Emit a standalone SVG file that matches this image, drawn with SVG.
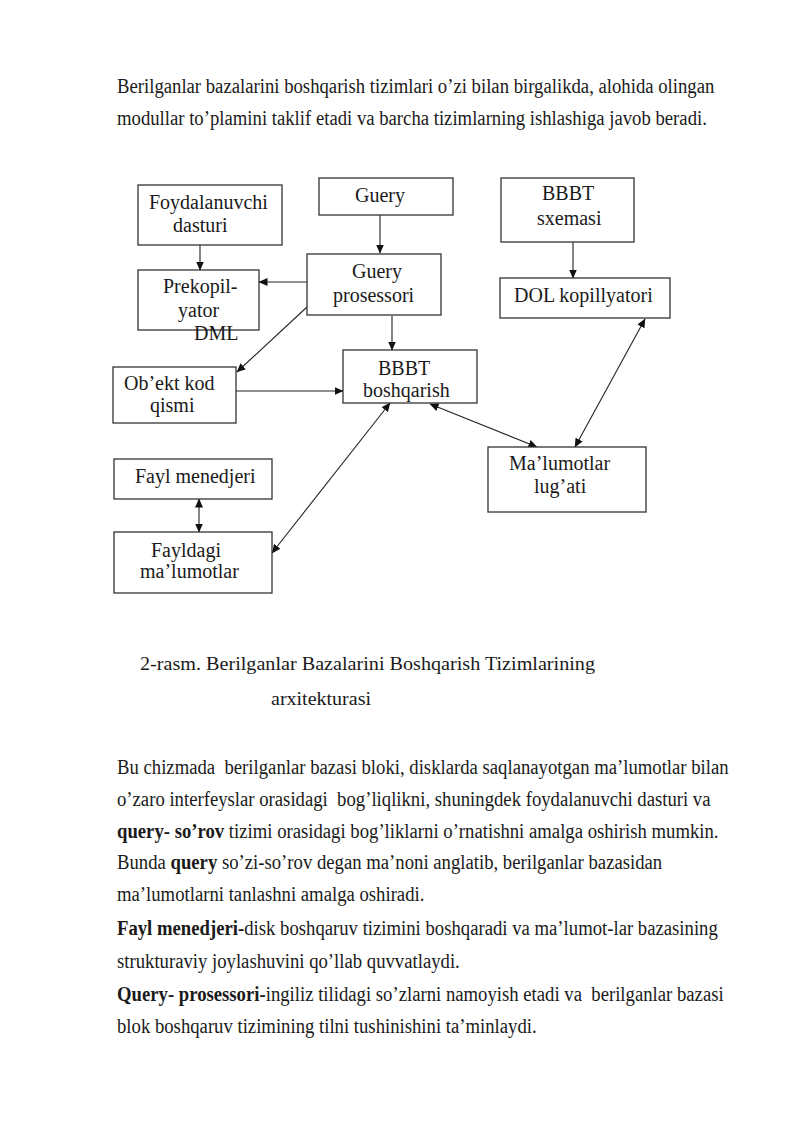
<svg xmlns="http://www.w3.org/2000/svg" width="800" height="1131" viewBox="0 0 800 1131">
<style>
.bg{fill:#ffffff}
.box{fill:#ffffff;stroke:#333333;stroke-width:1.3}
.lbl{font-family:"Liberation Serif","Times New Roman",serif;font-size:20px;fill:#1a1a1a}
.body{font-family:"Liberation Serif","Times New Roman",serif;font-size:20px;fill:#1a1a1a;white-space:pre}
.cap{font-family:"Liberation Serif","Times New Roman",serif;font-size:19.5px;fill:#1a1a1a}
.b{font-weight:bold}
.con{fill:none;stroke:#222222;stroke-width:1.1}
</style>
<defs>
<marker id="ah" markerWidth="9" markerHeight="8" refX="8.5" refY="4" orient="auto-start-reverse" markerUnits="userSpaceOnUse">
<path d="M0,0 L9,4 L0,8 Z" fill="#111111"/>
</marker>
</defs>
<rect class="bg" x="0" y="0" width="800" height="1131"/>

<g id="intro" transform="scale(0.935,1)">
<text class="body" x="125.13" y="93">Berilganlar bazalarini boshqarish tizimlari o’zi bilan birgalikda, alohida olingan</text>
<text class="body" x="125.13" y="125">modullar to’plamini taklif etadi va barcha tizimlarning ishlashiga javob beradi.</text>
</g>

<g id="connectors">
<line class="con" x1="380" y1="215" x2="380" y2="253" marker-end="url(#ah)"/>
<line class="con" x1="200" y1="245" x2="200" y2="270" marker-end="url(#ah)"/>
<line class="con" x1="307" y1="282" x2="259" y2="282" marker-end="url(#ah)"/>
<line class="con" x1="307" y1="307" x2="237" y2="372" marker-end="url(#ah)"/>
<line class="con" x1="392" y1="316" x2="392" y2="350" marker-end="url(#ah)"/>
<line class="con" x1="236" y1="391" x2="343" y2="391" marker-end="url(#ah)"/>
<line class="con" x1="573" y1="242" x2="573" y2="278" marker-end="url(#ah)"/>
<line class="con" x1="199" y1="532" x2="199" y2="499" marker-end="url(#ah)" marker-start="url(#ah)"/>
<line class="con" x1="272" y1="553" x2="390" y2="403" marker-end="url(#ah)" marker-start="url(#ah)"/>
<line class="con" x1="430" y1="404" x2="537" y2="447" marker-end="url(#ah)" marker-start="url(#ah)"/>
<line class="con" x1="645" y1="319" x2="575" y2="447" marker-end="url(#ah)" marker-start="url(#ah)"/>
</g>

<g id="foydalanuvchi">
<rect class="box" x="138" y="185" width="144" height="60"/>
<text class="lbl" x="149" y="209">Foydalanuvchi</text>
<text class="lbl" x="173" y="232">dasturi</text>
</g>

<g id="guery">
<rect class="box" x="319" y="178" width="134" height="37"/>
<text class="lbl" x="355" y="202">Guery</text>
</g>

<g id="bbbt-sxemasi">
<rect class="box" x="501" y="178" width="133" height="64"/>
<text class="lbl" x="542" y="200">BBBT</text>
<text class="lbl" x="537" y="225">sxemasi</text>
</g>

<g id="prekopilyator">
<rect class="box" x="138" y="270" width="121" height="60"/>
<text class="lbl" x="163" y="293">Prekopil-</text>
<text class="lbl" x="178" y="317">yator</text>
<text class="lbl" x="194" y="340">DML</text>
</g>

<g id="guery-prosessori">
<rect class="box" x="307" y="254" width="134" height="61"/>
<text class="lbl" x="352" y="278">Guery</text>
<text class="lbl" x="333" y="302">prosessori</text>
</g>

<g id="dol-kopillyatori">
<rect class="box" x="500" y="278" width="170" height="40"/>
<text class="lbl" x="514" y="302">DOL kopillyatori</text>
</g>

<g id="obekt-kod">
<rect class="box" x="113" y="367" width="123" height="56"/>
<text class="lbl" x="124" y="390">Ob’ekt kod</text>
<text class="lbl" x="150" y="412">qismi</text>
</g>

<g id="bbbt-boshqarish">
<rect class="box" x="343" y="350" width="134" height="53"/>
<text class="lbl" x="378" y="375">BBBT</text>
<text class="lbl" x="363" y="397">boshqarish</text>
</g>

<g id="fayl-menedjeri">
<rect class="box" x="114" y="459" width="158" height="40"/>
<text class="lbl" x="135" y="483">Fayl menedjeri</text>
</g>

<g id="fayldagi">
<rect class="box" x="114" y="532" width="158" height="61"/>
<text class="lbl" x="151" y="557">Fayldagi</text>
<text class="lbl" x="140" y="578">ma’lumotlar</text>
</g>

<g id="malumotlar-lugati">
<rect class="box" x="488" y="447" width="158" height="65"/>
<text class="lbl" x="509" y="470">Ma’lumotlar</text>
<text class="lbl" x="534" y="493">lug’ati</text>
</g>

<g id="caption">
<text class="cap" x="140" y="670" textLength="455" lengthAdjust="spacingAndGlyphs">2-rasm. Berilganlar Bazalarini Boshqarish Tizimlarining</text>
<text class="cap" x="271" y="705" textLength="100" lengthAdjust="spacingAndGlyphs">arxitekturasi</text>
</g>

<g id="body" transform="scale(0.935,1)">
<text class="body" x="125.13" y="774" xml:space="preserve">Bu chizmada  berilganlar bazasi bloki, disklarda saqlanayotgan ma’lumotlar bilan</text>
<text class="body" x="125.13" y="806" xml:space="preserve">o’zaro interfeyslar orasidagi  bog’liqlikni, shuningdek foydalanuvchi dasturi va</text>
<text class="body" x="125.13" y="838"><tspan class="b">query- so’rov</tspan> tizimi orasidagi bog’liklarni o’rnatishni amalga oshirish mumkin.</text>
<text class="body" x="125.13" y="869">Bunda <tspan class="b">query</tspan> so’zi-so’rov degan ma’noni anglatib, berilganlar bazasidan</text>
<text class="body" x="125.13" y="901">ma’lumotlarni tanlashni amalga oshiradi.</text>
<text class="body" x="125.13" y="935"><tspan class="b">Fayl menedjeri-</tspan>disk boshqaruv tizimini boshqaradi va ma’lumot-lar bazasining</text>
<text class="body" x="125.13" y="968">strukturaviy joylashuvini qo’llab quvvatlaydi.</text>
<text class="body" x="125.13" y="1001" xml:space="preserve"><tspan class="b">Query- prosessori-</tspan>ingiliz tilidagi so’zlarni namoyish etadi va  berilganlar bazasi</text>
<text class="body" x="125.13" y="1033">blok boshqaruv tizimining tilni tushinishini ta’minlaydi.</text>
</g>
</svg>
